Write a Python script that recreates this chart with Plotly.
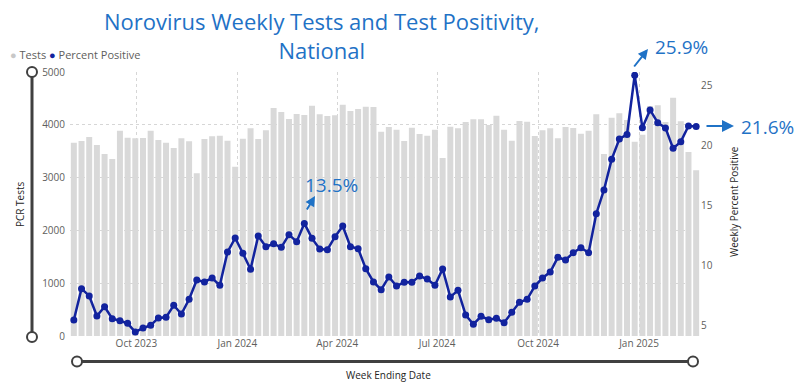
import pandas as pd
import plotly.graph_objects as go

# ---- data ----
week_start = "2023-08-05"
n_weeks = 82
week_ending = pd.date_range(week_start, periods=n_weeks, freq="7D")

tests = [3661, 3693, 3769, 3617, 3447, 3352, 3889, 3756, 3744, 3750,
         3889, 3712, 3661, 3560, 3744, 3687, 3081, 3731, 3782, 3794,
         3699, 3207, 3737, 3933, 3731, 3895, 4318, 4242, 4110, 4205,
         4186, 4362, 4198, 4167, 4179, 4381, 4261, 4299, 4343, 4337,
         3870, 3958, 3907, 3693, 3945, 3826, 3794, 3907, 3371, 3964,
         3933, 4053, 4104, 4104, 3996, 4173, 3907, 3699, 4072, 4059,
         3788, 3895, 3933, 3744, 3958, 3939, 3832, 3889, 4198, 3447,
         4135, 4217, 4091, 3680, 3813, 4356, 4369, 4053, 4514, 4066,
         3485, 3138]

pct_positive = [5.42, 8.04, 7.43, 5.75, 6.53, 5.53, 5.36, 5.14, 4.41, 4.75,
                4.97, 5.59, 5.64, 6.65, 5.92, 7.15, 8.77, 8.60, 8.93, 8.32,
                11.1, 12.28, 11.0, 9.66, 12.45, 11.55, 11.8, 11.5, 12.56, 11.97,
                13.5, 12.25, 11.36, 11.3, 12.39, 13.28, 11.55, 11.39, 9.71, 8.6,
                7.95, 9.02, 8.26, 8.57, 8.57, 9.1, 8.85, 8.32, 9.69, 7.34,
                7.9, 5.84, 5.06, 5.73, 5.45, 5.56, 5.19, 6.06, 6.9, 7.15,
                8.26, 8.93, 9.43, 10.66, 10.44, 11.05, 11.47, 11.05, 14.31, 16.3,
                18.86, 20.56, 20.95, 25.9, 21.51, 23.0, 21.93, 21.49, 19.78, 20.34,
                21.65, 21.6]

x_tick_vals = ["2023-10-01", "2024-01-01", "2024-04-01", "2024-07-01", "2024-10-01", "2025-01-01"]
x_tick_text = ["Oct 2023", "Jan 2024", "Apr 2024", "Jul 2024", "Oct 2024", "Jan 2025"]
left_ticks = [0, 1000, 2000, 3000, 4000, 5000]
right_ticks = [5, 10, 15, 20, 25]

# ---- style ----
BAR = "#d9d9d9"
LINE = "#12239E"
NOTE = "#1f72c6"
TICK = "#605e5c"
DARK = "#252423"
FONT = "Open Sans"
W, H = 803, 391
L, R, T, B = 70, 700, 72, 336


def px(xp):
    return (xp - L) / (R - L)


def py(yp):
    return (B - yp) / (B - T)


fig = go.Figure()
fig.add_trace(go.Bar(x=week_ending, y=tests, name="Tests", marker_color=BAR,
                     marker_line_width=0, yaxis="y", showlegend=False))
fig.add_trace(go.Scatter(x=week_ending, y=pct_positive, name="Percent Positive",
                         mode="lines+markers", yaxis="y2",
                         line=dict(color=LINE, width=2.5),
                         marker=dict(color=LINE, size=7), showlegend=False))

x_start = week_ending[0] - pd.Timedelta(days=3.5)
x_end = week_ending[-1] + pd.Timedelta(days=3.5)

fig.update_layout(
    width=W, height=H,
    margin=dict(l=L, r=W - R, t=T, b=H - B),
    paper_bgcolor="white", plot_bgcolor="white",
    bargap=0.22,
    font=dict(family=FONT, size=10, color=TICK),
    xaxis=dict(type="date", range=[x_start, x_end], tickvals=x_tick_vals, ticktext=x_tick_text,
               showgrid=True, gridcolor="#d6d6d6", griddash="dot", gridwidth=1,
               showline=False, zeroline=False, ticks="", tickfont=dict(size=10, color=TICK)),
    yaxis=dict(range=[0, 5000], tickvals=left_ticks, showgrid=True, gridcolor="#d6d6d6",
               griddash="dot", zeroline=False, ticks="", tickfont=dict(size=10, color=TICK),
               ticklabelstandoff=4),
    yaxis2=dict(range=[4.08, 26.17], tickvals=right_ticks, overlaying="y", side="right",
                showgrid=False, zeroline=False, ticks="", tickfont=dict(size=10, color=TICK)),
)


def label(text, x, y, size, color, xanchor="center", angle=0, family=FONT):
    return dict(text=text, x=px(x), y=py(y), xref="paper", yref="paper", xanchor=xanchor,
                yanchor="middle", textangle=angle, showarrow=False,
                font=dict(size=size, color=color, family=family))


def arrow(tail, head, size=1.0):
    return dict(text="", x=px(head[0]), y=py(head[1]), xref="paper", yref="paper",
                ax=tail[0] - head[0], ay=tail[1] - head[1], axref="pixel", ayref="pixel",
                showarrow=True, arrowhead=2, arrowsize=size, arrowwidth=2, arrowcolor=NOTE)


annotations = [
    label("Norovirus Weekly Tests and Test Positivity,<br>National", 322, 35, 22, NOTE),
    label(f"<span style='color:#c8c8c8'>●</span> Tests <span style='color:{LINE}'>●</span> Percent Positive",
          8, 55, 11, TICK, xanchor="left"),
    label("PCR Tests", 20, 204, 10, DARK, angle=-90),
    label("Weekly Percent Positive", 734, 202, 10, DARK, angle=-90),
    label("Week Ending Date", 388, 375, 10, DARK),
    label("13.5%", 303, 185, 19, NOTE, xanchor="left"),
    label("25.9%", 653, 47, 19, NOTE, xanchor="left"),
    label("21.6%", 739, 127, 19, NOTE, xanchor="left"),
    arrow((306, 211), (315, 196)),
    arrow((633, 68), (648, 49)),
    arrow((705, 126), (734, 126), 1.2),
]
fig.update_layout(annotations=annotations)

SL = "#404040"
shapes = [
    dict(type="line", xref="paper", yref="paper", x0=px(32), x1=px(32), y0=py(72), y1=py(337),
         line=dict(color=SL, width=3)),
    dict(type="line", xref="paper", yref="paper", x0=px(77), x1=px(693), y0=py(361.5), y1=py(361.5),
         line=dict(color=SL, width=3)),
]
for cx, cy in [(32, 72), (32, 337), (77, 361.5), (693, 361.5)]:
    shapes.append(dict(type="circle", xref="paper", yref="paper", xsizemode="pixel", ysizemode="pixel",
                       xanchor=px(cx), yanchor=py(cy), x0=-5, x1=5, y0=-5, y1=5,
                       fillcolor="white", line=dict(color=SL, width=2)))
fig.update_layout(shapes=shapes)

fig.write_html("out.html", config={"displayModeBar": False},
               post_script="document.body.style.margin='0';document.body.style.overflow='hidden';")
